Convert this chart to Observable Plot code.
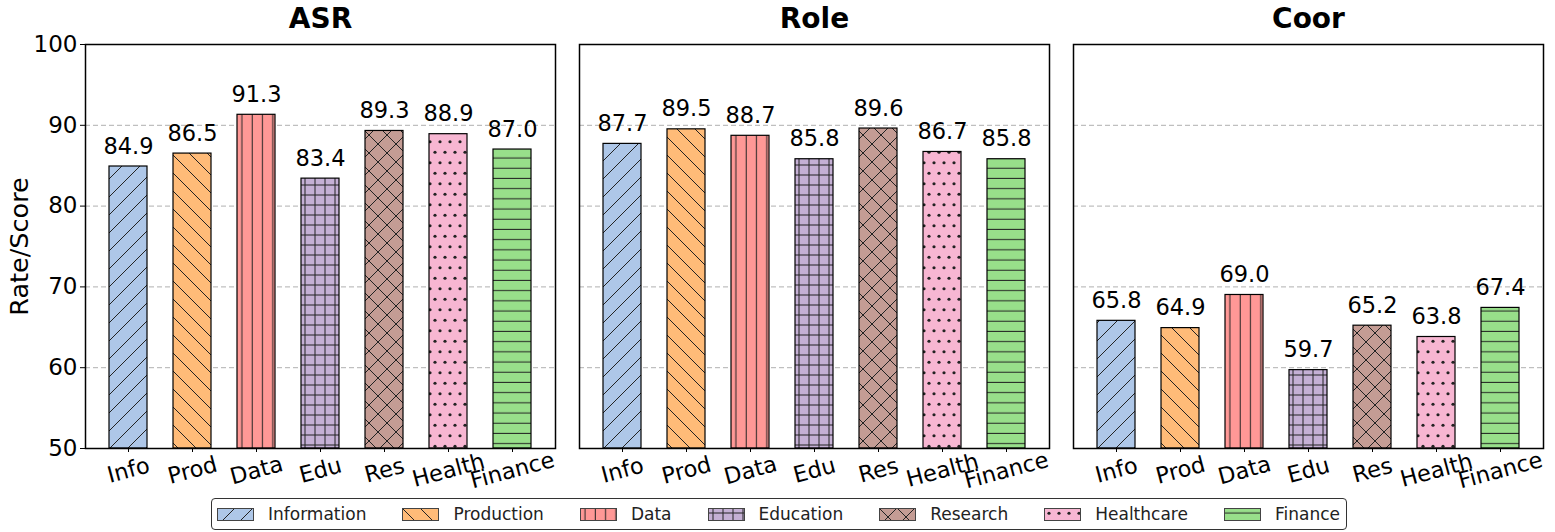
<!DOCTYPE html>
<html>
<head>
<meta charset="utf-8">
<script src="https://cdn.jsdelivr.net/npm/d3@7"></script>
<script src="https://cdn.jsdelivr.net/npm/@observablehq/plot@0.6"></script>
<style>
  body { margin: 0; background: white; font-family: "DejaVu Sans", sans-serif; }
  #wrap { position: relative; width: 1555px; height: 532px; }
  #legend {
    position: absolute; left: 211px; top: 498px; width: 1136px; height: 32px;
    box-sizing: border-box; border: 1.5px solid #333; border-radius: 4px;
    display: flex; align-items: center; justify-content: space-between;
    padding: 0 6px 0 5px; font-size: 17px; color: #222;
  }
  .item { display: flex; align-items: center; }
  .item svg { margin-right: 14px; }
</style>
</head>
<body>
<svg width="0" height="0" style="position:absolute">
  <defs id="defs"></defs>
</svg>
<div id="wrap">
  <div id="chart"></div>
  <div id="legend"></div>
</div>
<script>
const panels = ["ASR", "Role", "Coor"];
const categories = ["Info", "Prod", "Data", "Edu", "Res", "Health", "Finance"];
const legendNames = ["Information", "Production", "Data", "Education", "Research", "Healthcare", "Finance"];
const asr = [84.9, 86.5, 91.3, 83.4, 89.3, 88.9, 87.0];
const role = [87.7, 89.5, 88.7, 85.8, 89.6, 86.7, 85.8];
const coor = [65.8, 64.9, 69.0, 59.7, 65.2, 63.8, 67.4];
const yTicks = [50, 60, 70, 80, 90, 100];
const colors = ["#aec7e8", "#ffbb78", "#ff9896", "#c5b0d5", "#c49c94", "#f7b6d2", "#98df8a"];

// hatch patterns (matplotlib-like: / \ | + x . -)
const hc = "#222";
const patternDefs = [
  {w: 18, h: 18, body: `<path d="M-4.5,4.5 L4.5,-4.5 M0,18 L18,0 M13.5,22.5 L22.5,13.5" stroke="${hc}" stroke-width="1"/>`},
  {w: 18, h: 18, body: `<path d="M-4.5,13.5 L4.5,22.5 M0,0 L18,18 M13.5,-4.5 L22.5,4.5" stroke="${hc}" stroke-width="1"/>`},
  {w: 10.3, h: 10, body: `<path d="M5,-1 L5,11" stroke="${hc}" stroke-width="1"/>`},
  {w: 10, h: 10, body: `<path d="M5,-1 L5,11 M-1,5 L11,5" stroke="${hc}" stroke-width="1"/>`},
  {w: 18, h: 18, body: `<path d="M-4.5,4.5 L4.5,-4.5 M0,18 L18,0 M13.5,22.5 L22.5,13.5 M-4.5,13.5 L4.5,22.5 M0,0 L18,18 M13.5,-4.5 L22.5,4.5" stroke="${hc}" stroke-width="1"/>`},
  {w: 10, h: 21, body: `<circle cx="5" cy="5.25" r="1.6" fill="${hc}"/><circle cx="0" cy="15.75" r="1.6" fill="${hc}"/><circle cx="10" cy="15.75" r="1.6" fill="${hc}"/>`},
  {w: 10, h: 10.2, body: `<path d="M-1,5 L11,5" stroke="${hc}" stroke-width="1"/>`}
];
document.getElementById("defs").innerHTML = patternDefs.map((p, i) =>
  `<pattern id="hatch-${i}" patternUnits="userSpaceOnUse" width="${p.w}" height="${p.h}">` +
  `<rect x="0" y="0" width="${p.w}" height="${p.h}" fill="${colors[i]}"/>${p.body}</pattern>`
).join("");

const values = [asr, role, coor];
const data = panels.flatMap((p, pi) => categories.map((c, i) => ({panel: p, cat: c, v: values[pi][i], i})));

const chart = Plot.plot({
  width: 1555,
  height: 498,
  marginLeft: 85,
  marginRight: 12,
  marginTop: 44,
  marginBottom: 50,
  style: {fontFamily: "DejaVu Sans", fontSize: "20px", color: "black", background: "white", overflow: "visible"},
  fx: {domain: panels, paddingInner: 0.0486, paddingOuter: 0, label: null},
  x: {domain: categories, paddingInner: 0.4, paddingOuter: 0.33, label: null},
  y: {domain: [50, 100], label: "Rate/Score"},
  color: {type: "identity"},
  marks: [
    Plot.gridY([60, 70, 80, 90], {stroke: "#b0b0b0", strokeOpacity: 1, strokeWidth: 1, strokeDasharray: "5,3"}),
    Plot.barY(data, {fx: "panel", x: "cat", y1: 50, y2: "v", fill: d => `url(#hatch-${d.i})`, stroke: "black", strokeWidth: 1.2}),
    Plot.text(data, {fx: "panel", x: "cat", y: "v", text: d => d.v.toFixed(1), dy: -13, lineAnchor: "bottom", fontSize: 22.5, fill: "black"}),
    Plot.frame({stroke: "black", strokeWidth: 1.5}),
    Plot.axisY({ticks: yTicks, tickSize: 5, tickPadding: 3, fontSize: 23, label: null}),
    Plot.axisY({ticks: [], tickSize: 0, fontSize: 25.5, label: "Rate/Score", labelAnchor: "center", labelArrow: "none", labelOffset: 76}),
    Plot.axisX({tickSize: 4, tickRotate: -15, tickPadding: 18, fontSize: 22.5, textAnchor: "middle", lineAnchor: "middle", label: null}),
    Plot.axisFx({anchor: "top", tickSize: 0, tickPadding: 17, fontSize: 28, fontWeight: "bold", label: null})
  ]
});
document.getElementById("chart").appendChild(chart);

document.getElementById("legend").innerHTML = legendNames.map((n, i) =>
  `<div class="item"><svg width="37" height="13"><rect x="0.5" y="0.5" width="36" height="12" fill="url(#hatch-${i})" stroke="#444" stroke-width="1"/></svg><span>${n}</span></div>`
).join("");
</script>
</body>
</html>
